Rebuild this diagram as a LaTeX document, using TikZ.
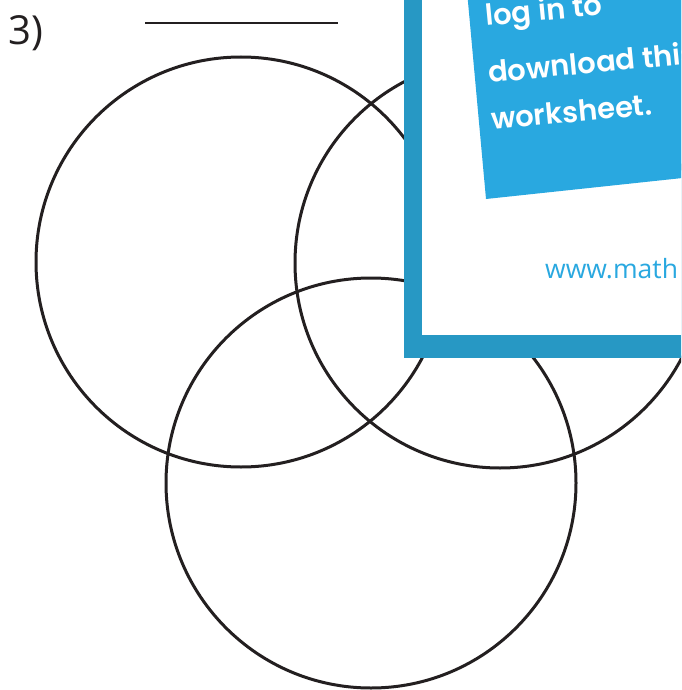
\documentclass[tikz,border=0pt]{standalone}
\usepackage{fontspec}
\setmainfont{Open Sans}
\newfontfamily\notefont{Poppins SemiBold}
\definecolor{ink}{HTML}{231F20}
\definecolor{frameblue}{HTML}{2798C4}
\definecolor{noteblue}{HTML}{29A8E0}
\tikzset{
  venn/.style={draw=ink, line width=3pt},
  notetext/.style={anchor=base west, rotate=5.5, text=white, font=\notefont\fontsize{29}{32}\selectfont, inner sep=0pt},
}
\begin{document}
\begin{tikzpicture}[x=1pt,y=-1pt]
\useasboundingbox (0,0) rectangle (681,690);
\clip (0,0) rectangle (681,690);
\node[anchor=base west, inner sep=0pt, text=ink, font=\fontsize{40}{42}\selectfont] (num) at (8,45) {3)};
\draw[ink, line width=2pt] (145,23) -- (338,23);
\draw[venn] (241,262) circle[radius=205];
\draw[venn] (500,263) circle[radius=205];
\draw[venn] (371,483) circle[radius=205];
\fill[frameblue] (404,-10) rectangle (700,358);
\fill[white] (422,-10) rectangle (700,335);
\fill[noteblue] (466,-20) -- (486,199) -- (720,174) -- (700,-40) -- cycle;
\node[notetext] (t1) at (486,26) {log in to};
\node[notetext] (t2) at (489,83) {download this};
\node[notetext] (t3) at (492,130) {worksheet.};
\node[anchor=base west, inner sep=0pt, text=noteblue, font=\fontsize{26.5}{30}\selectfont] (url) at (545,278) {www.math};
\end{tikzpicture}
\end{document}
